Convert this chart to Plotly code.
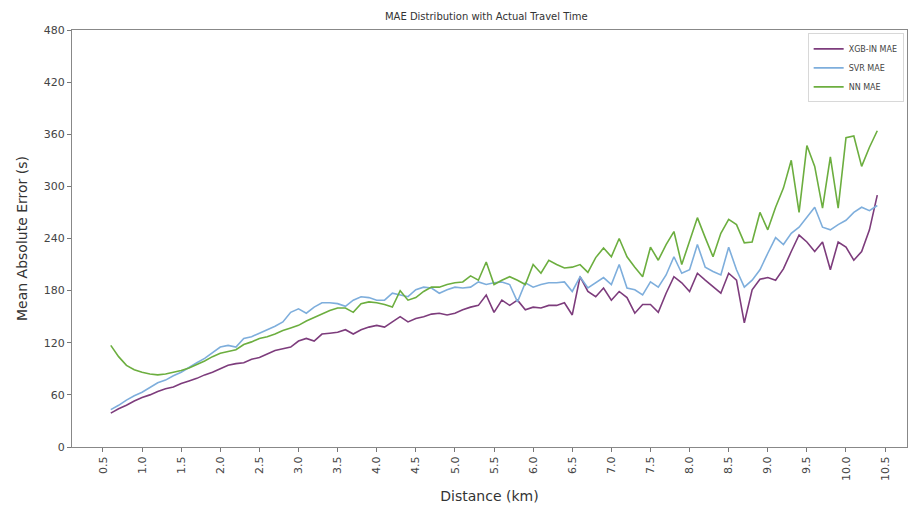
import plotly.graph_objects as go

distance_km = [round(0.6 + 0.1 * i, 1) for i in range(99)]

xgb_mae = [39, 44, 48, 53, 57, 60, 64, 67, 69, 73,
           76, 79, 83, 86, 90, 94, 96, 97, 101, 103,
           107, 111, 113, 115, 122, 125, 122, 130, 131, 132,
           135, 130, 135, 138, 140, 138, 144, 150, 144, 148,
           150, 153, 154, 152, 154, 158, 161, 163, 175, 155,
           169, 163, 169, 158, 161, 160, 163, 163, 166, 152,
           196, 179, 173, 183, 169, 179, 172, 154, 164, 164,
           155, 177, 196, 189, 179, 200, 192, 184, 177, 200,
           192, 143, 181, 193, 195, 192, 205, 225, 244, 236,
           225, 236, 204, 236, 230, 215, 225, 250, 290]

svr_mae = [43, 48, 54, 59, 63, 69, 74, 77, 82, 86,
           92, 97, 102, 108, 115, 117, 115, 125, 127, 131,
           135, 139, 144, 155, 159, 154, 161, 166, 166, 165,
           162, 169, 173, 172, 169, 169, 177, 175, 173, 181,
           184, 183, 177, 181, 184, 183, 184, 190, 187, 189,
           190, 187, 167, 189, 184, 187, 189, 189, 190, 179,
           196, 183, 189, 195, 187, 210, 183, 181, 175, 190,
           184, 198, 219, 200, 204, 233, 207, 202, 198, 230,
           204, 184, 192, 204, 223, 241, 233, 246, 253, 265,
           276, 253, 250, 256, 261, 270, 276, 272, 278]

nn_mae = [117, 104, 94, 89, 86, 84, 83, 84, 86, 88,
          91, 95, 99, 104, 108, 110, 112, 118, 121, 125,
          127, 130, 134, 137, 140, 145, 149, 153, 157, 160,
          160, 155, 165, 167, 166, 164, 161, 180, 169, 172,
          179, 184, 184, 187, 189, 190, 197, 192, 213, 187,
          192, 196, 192, 187, 210, 200, 215, 210, 206, 207,
          210, 201, 218, 229, 219, 240, 219, 207, 196, 230,
          215, 233, 248, 210, 238, 264, 241, 219, 246, 262,
          256, 235, 236, 270, 250, 276, 298, 330, 270, 347,
          323, 275, 334, 275, 356, 358, 323, 345, 364]

x_ticks = [0.5 * k for k in range(1, 22)]
x_tick_labels = [f"{v:.1f}" for v in x_ticks]
y_ticks = [0, 60, 120, 180, 240, 300, 360, 420, 480]

series = [
    ("XGB-IN MAE", xgb_mae, "#7d3c7c"),
    ("SVR MAE", svr_mae, "#7eaedc"),
    ("NN MAE", nn_mae, "#6cae3f"),
]

fig = go.Figure()
for name, vals, color in series:
    fig.add_trace(go.Scatter(x=distance_km, y=vals, mode="lines", name=name,
                             line=dict(color=color, width=1.6)))

font_family = "DejaVu Sans"
fig.update_layout(
    width=909, height=512,
    margin=dict(l=72, r=2, t=30, b=65),
    paper_bgcolor="white", plot_bgcolor="white",
    font=dict(family=font_family, color="#333333"),
    title=dict(text="MAE Distribution with Actual Travel Time",
               x=0.535, xanchor="center", y=0.967, yanchor="middle",
               font=dict(size=10, color="#333333")),
    legend=dict(x=0.996, y=0.992, xanchor="right", yanchor="top",
                bgcolor="white", bordercolor="#d8d8d8", borderwidth=1,
                font=dict(size=8, color="#444444"), tracegroupgap=0),
    showlegend=True,
)
fig.update_xaxes(
    range=[0.104, 10.78], tickmode="array", tickvals=x_ticks, ticktext=x_tick_labels,
    tickangle=-90, ticks="outside", ticklen=4, tickcolor="#777777",
    showline=True, linecolor="#888888", linewidth=1.2, mirror=True,
    showgrid=False, zeroline=False, tickfont=dict(size=11, color="#444444"),
    title=dict(text="Distance (km)", font=dict(size=14, color="#333333"), standoff=11),
)
fig.update_yaxes(
    range=[0, 480], tickmode="array", tickvals=y_ticks,
    ticks="outside", ticklen=4, tickcolor="#777777",
    showline=True, linecolor="#888888", linewidth=1.2, mirror=True,
    showgrid=False, zeroline=False, tickfont=dict(size=11, color="#444444"),
    title=dict(text="Mean Absolute Error (s)", font=dict(size=14, color="#333333"), standoff=12),
)

fig.write_html("out.html")
